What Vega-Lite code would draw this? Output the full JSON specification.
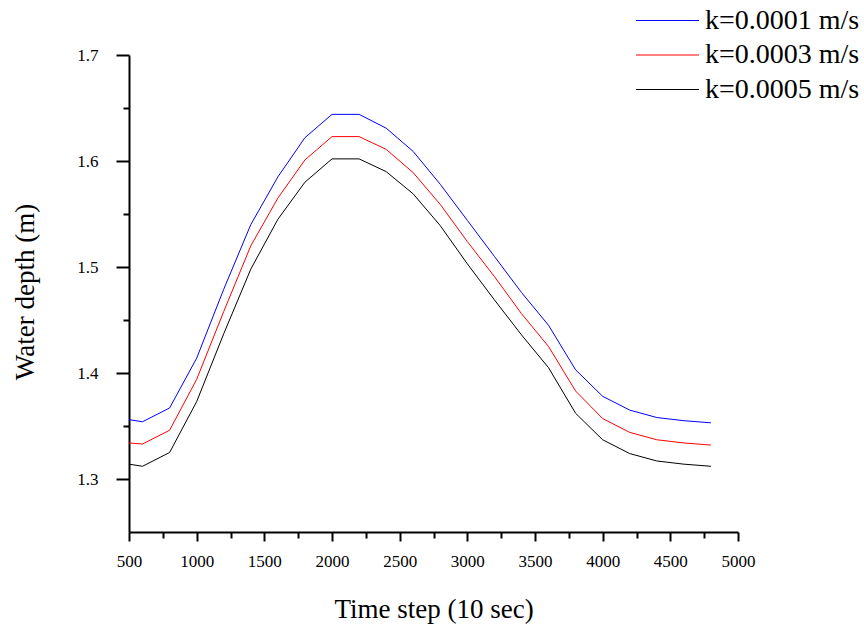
{
  "$schema": "https://vega.github.io/schema/vega-lite/v6.json",
  "width": 609,
  "height": 477,
  "autosize": "none",
  "padding": {"left": 129, "top": 55, "right": 126, "bottom": 103},
  "background": "white",
  "config": {
    "view": {"stroke": null},
    "font": "Liberation Serif, Times New Roman, serif",
    "text": {"font": "Liberation Serif, Times New Roman, serif"},
    "legend": {"labelFont": "Liberation Serif, Times New Roman, serif", "titleFont": "Liberation Serif, Times New Roman, serif"},
    "axis": {"grid": false, "domainColor": "#000", "domainWidth": 2, "tickColor": "#000", "tickWidth": 2, "labelColor": "#000", "titleColor": "#000", "labelFont": "Liberation Serif, Times New Roman, serif", "titleFont": "Liberation Serif, Times New Roman, serif", "labelFontSize": 17, "titleFontSize": 27, "titleFontWeight": "normal"}
  },
  "datasets": {
    "series": [
      {"t": 500, "blue": 1.356, "red": 1.334, "black": 1.314},
      {"t": 600, "blue": 1.354, "red": 1.333, "black": 1.312},
      {"t": 800, "blue": 1.367, "red": 1.346, "black": 1.325},
      {"t": 1000, "blue": 1.414, "red": 1.394, "black": 1.373},
      {"t": 1200, "blue": 1.479, "red": 1.458, "black": 1.437},
      {"t": 1400, "blue": 1.540, "red": 1.520, "black": 1.498},
      {"t": 1600, "blue": 1.585, "red": 1.565, "black": 1.545},
      {"t": 1800, "blue": 1.622, "red": 1.601, "black": 1.580},
      {"t": 2000, "blue": 1.644, "red": 1.623, "black": 1.602},
      {"t": 2200, "blue": 1.644, "red": 1.623, "black": 1.602},
      {"t": 2400, "blue": 1.631, "red": 1.611, "black": 1.590},
      {"t": 2600, "blue": 1.609, "red": 1.589, "black": 1.569},
      {"t": 2800, "blue": 1.578, "red": 1.559, "black": 1.539},
      {"t": 3000, "blue": 1.544, "red": 1.524, "black": 1.503},
      {"t": 3200, "blue": 1.510, "red": 1.491, "black": 1.469},
      {"t": 3400, "blue": 1.476, "red": 1.456, "black": 1.436},
      {"t": 3600, "blue": 1.445, "red": 1.425, "black": 1.405},
      {"t": 3800, "blue": 1.403, "red": 1.383, "black": 1.362},
      {"t": 4000, "blue": 1.378, "red": 1.357, "black": 1.337},
      {"t": 4200, "blue": 1.365, "red": 1.344, "black": 1.324},
      {"t": 4400, "blue": 1.358, "red": 1.337, "black": 1.317},
      {"t": 4600, "blue": 1.355, "red": 1.334, "black": 1.314},
      {"t": 4800, "blue": 1.353, "red": 1.332, "black": 1.312}
    ]
  },
  "data": {"name": "series"},
  "transform": [
    {"fold": ["blue", "red", "black"], "as": ["key", "depth"]},
    {"calculate": "datum.key === 'blue' ? 'k=0.0001 m/s' : datum.key === 'red' ? 'k=0.0003 m/s' : 'k=0.0005 m/s'", "as": "series"}
  ],
  "mark": {"type": "line", "strokeWidth": 1, "clip": false},
  "encoding": {
    "x": {
      "field": "t", "type": "quantitative",
      "scale": {"domain": [500, 5000], "nice": false, "zero": false},
      "axis": {
        "title": "Time step (10 sec)",
        "values": [500, 750, 1000, 1250, 1500, 1750, 2000, 2250, 2500, 2750, 3000, 3250, 3500, 3750, 4000, 4250, 4500, 4750, 5000],
        "format": "d",
        "labelExpr": "datum.value % 500 === 0 ? datum.label : ''",
        "tickSize": {"condition": {"test": "datum.value % 500 !== 0", "value": 6}, "value": 9},
        "labelPadding": 12,
        "labelFlush": false,
        "labelOverlap": false,
        "titleX": 304.5,
        "titleY": 85,
        "titleBaseline": "alphabetic",
        "titleAlign": "center"
      }
    },
    "y": {
      "field": "depth", "type": "quantitative",
      "scale": {"domain": [1.25, 1.7], "nice": false, "zero": false},
      "axis": {
        "title": "Water depth (m)",
        "values": [1.3, 1.35, 1.4, 1.45, 1.5, 1.55, 1.6, 1.65, 1.7],
        "labelExpr": "abs(round(datum.value * 10) - datum.value * 10) < 0.01 ? format(datum.value, '.1f') : ''",
        "tickSize": {"condition": {"test": "abs(round(datum.value * 10) - datum.value * 10) > 0.01", "value": 6}, "value": 13},
        "labelPadding": 18,
        "labelOverlap": false,
        "labelFlush": false,
        "titleX": -96,
        "titleY": 236.5,
        "titleAngle": -90,
        "titleBaseline": "alphabetic",
        "titleAlign": "center"
      }
    },
    "color": {
      "field": "series", "type": "nominal",
      "scale": {"domain": ["k=0.0001 m/s", "k=0.0003 m/s", "k=0.0005 m/s"], "range": ["#0000ff", "#ff0000", "#000000"]},
      "legend": {
        "title": null,
        "orient": "none",
        "legendX": 524.5,
        "legendY": -48.5,
        "symbolType": "M-3,0H3",
        "symbolSize": 441,
        "symbolStrokeWidth": 1,
        "labelFontSize": 28,
        "labelColor": "#000",
        "labelOffset": 23.5,
        "rowPadding": 6.5,
        "labelLimit": 400
      }
    }
  }
}
